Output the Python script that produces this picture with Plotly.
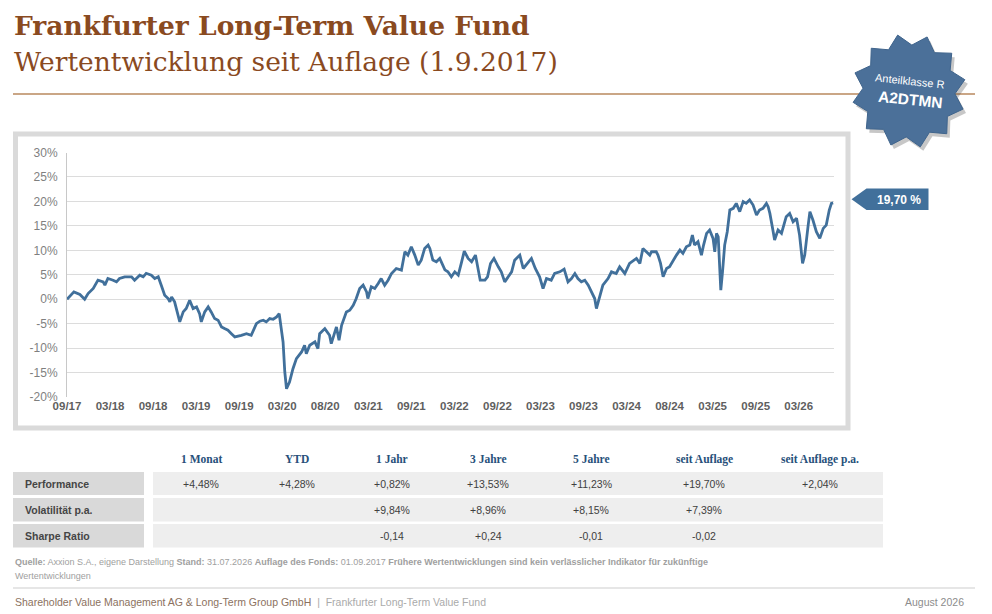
import math

import plotly.graph_objects as go

# Wertentwicklung seit Auflage; x = Halbjahres-Achsenschritte ab 09/17
halbjahr = [
    0.00, 0.16, 0.30, 0.41, 0.49, 0.61, 0.72, 0.84, 0.88, 0.95,
    1.07, 1.15, 1.22, 1.34, 1.50, 1.57, 1.69, 1.77, 1.84, 1.96,
    2.04, 2.12, 2.19, 2.27, 2.35, 2.39, 2.43, 2.50, 2.62, 2.70,
    2.77, 2.85, 2.93, 3.01, 3.08, 3.12, 3.20, 3.28, 3.35, 3.43,
    3.51, 3.59, 3.66, 3.74, 3.82, 3.90, 4.05, 4.17, 4.28, 4.32,
    4.40, 4.48, 4.56, 4.63, 4.71, 4.79, 4.87, 4.93, 4.98, 5.02,
    5.06, 5.10, 5.17, 5.25, 5.33, 5.45, 5.52, 5.56, 5.64, 5.76,
    5.83, 5.87, 5.99, 6.10, 6.14, 6.26, 6.32, 6.38, 6.49, 6.57,
    6.65, 6.72, 6.80, 6.88, 6.96, 6.99, 7.07, 7.15, 7.23, 7.30,
    7.38, 7.46, 7.54, 7.65, 7.77, 7.85, 7.92, 8.00, 8.08, 8.16,
    8.23, 8.31, 8.39, 8.43, 8.50, 8.58, 8.66, 8.74, 8.78, 8.85,
    8.93, 9.01, 9.09, 9.16, 9.23, 9.32, 9.40, 9.49, 9.55, 9.60,
    9.71, 9.77, 9.84, 9.92, 10.02, 10.09, 10.17, 10.25, 10.33, 10.40,
    10.52, 10.60, 10.67, 10.79, 10.88, 10.98, 11.06, 11.14, 11.25, 11.33,
    11.45, 11.55, 11.64, 11.72, 11.80, 11.87, 11.95, 12.03, 12.11, 12.18,
    12.26, 12.30, 12.38, 12.45, 12.57, 12.65, 12.76, 12.84, 12.96, 13.07,
    13.23, 13.31, 13.38, 13.46, 13.54, 13.58, 13.69, 13.73, 13.79, 13.85,
    13.93, 14.00, 14.08, 14.16, 14.24, 14.31, 14.39, 14.47, 14.53, 14.58,
    14.66, 14.74, 14.79, 14.86, 14.93, 15.01, 15.05, 15.09, 15.13, 15.17,
    15.19, 15.23, 15.28, 15.34, 15.40, 15.48, 15.55, 15.63, 15.71, 15.78,
    15.86, 15.94, 16.02, 16.09, 16.17, 16.25, 16.29, 16.33, 16.37, 16.40,
    16.44, 16.52, 16.60, 16.71, 16.79, 16.87, 16.95, 17.02, 17.09, 17.14,
    17.22, 17.26, 17.33, 17.41, 17.49, 17.57, 17.64, 17.71, 17.76, 17.80,
]
wertentwicklung = [
    0.00, 1.50, 0.96, 0.00, 1.16, 2.19, 3.89, 3.55, 2.87, 4.23,
    3.89, 3.55, 4.23, 4.58, 4.58, 3.89, 4.92, 4.58, 5.30, 4.92,
    4.23, 4.58, 2.87, 0.82, 0.14, -0.55, 0.48, -0.55, -4.64, -2.60,
    -1.91, -0.20, -1.91, -1.57, -2.94, -4.64, -2.60, -1.57, -2.60, -3.96,
    -4.30, -5.67, -6.01, -6.35, -7.04, -7.72, -7.38, -7.04, -7.38, -6.50,
    -5.00, -4.50, -4.30, -4.64, -3.96, -4.10, -3.62, -2.94, -6.69, -8.74,
    -14.89, -18.31, -16.94, -14.21, -12.16, -10.79, -9.43, -11.13, -9.43, -8.74,
    -10.11, -7.04, -6.01, -7.38, -9.08, -5.67, -8.40, -5.33, -2.60, -2.25,
    -1.23, 0.14, 2.19, 2.87, 1.50, 0.14, 2.53, 2.19, 3.21, 4.23,
    2.87, 3.89, 5.26, 6.28, 5.94, 9.70, 9.02, 10.72, 9.02, 6.97,
    7.99, 10.38, 11.07, 10.38, 7.99, 7.65, 8.33, 6.97, 6.00, 5.60,
    4.58, 5.60, 4.92, 7.31, 9.84, 8.33, 7.65, 9.02, 6.28, 3.89,
    3.89, 4.58, 7.31, 8.33, 6.63, 5.60, 3.55, 4.58, 5.60, 7.99,
    9.02, 6.28, 6.97, 8.33, 6.28, 4.58, 2.19, 4.23, 3.89, 5.26,
    5.60, 6.15, 3.55, 4.23, 5.26, 4.23, 3.55, 3.89, 2.87, 1.50,
    0.14, -1.91, 0.82, 2.87, 4.23, 5.60, 5.26, 6.63, 5.26, 7.31,
    8.33, 7.31, 10.38, 9.70, 9.02, 9.70, 9.70, 9.02, 7.31, 4.58,
    6.28, 6.63, 7.99, 9.02, 10.04, 9.36, 10.72, 11.07, 13.11, 11.07,
    11.75, 9.02, 11.07, 13.46, 14.14, 12.43, 9.70, 13.46, 12.77, 4.92,
    1.84, 5.60, 11.07, 13.80, 18.24, 18.58, 19.60, 17.90, 19.95, 19.60,
    20.29, 19.26, 17.21, 18.24, 18.58, 19.60, 18.92, 17.55, 15.16, 14.14,
    12.09, 14.14, 13.46, 16.87, 17.55, 15.85, 16.53, 13.11, 7.31, 9.02,
    15.16, 17.90, 16.19, 13.80, 12.43, 14.48, 15.16, 18.24, 19.60, 19.70,
]

x_labels = ['09/17', '03/18', '09/18', '03/19', '09/19', '03/20', '08/20',
            '03/21', '09/21', '03/22', '09/22', '03/23', '09/23', '03/24',
            '08/24', '03/25', '09/25', '03/26']
y_ticks = [30, 25, 20, 15, 10, 5, 0, -5, -10, -15, -20]
last_label = '19,70 %'

table_columns = ['1 Monat', 'YTD', '1 Jahr', '3 Jahre', '5 Jahre',
                 'seit Auflage', 'seit Auflage p.a.']
row_labels = ['Performance', 'Volatilität p.a.', 'Sharpe Ratio']
performance = ['+4,48%', '+4,28%', '+0,82%', '+13,53%', '+11,23%',
               '+19,70%', '+2,04%']
volatilitaet = ['', '', '+9,84%', '+8,96%', '+8,15%', '+7,39%', '']
sharpe_ratio = ['', '', '-0,14', '+0,24', '-0,01', '-0,02', '']

W, H = 992, 614
BROWN = '#8a4a1f'
BLUE = '#41709b'
SANS = 'Liberation Sans Narrow, Liberation Sans, Arial'
SERIF = 'DejaVu Serif, Liberation Serif'


def px(x):
    return x / W


def py(y):
    return 1 - y / H


def path(points):
    return 'M ' + ' L '.join(
        '%.4f,%.4f' % (px(x), py(y)) for x, y in points) + ' Z'


def note(text, x, y, size, color, family=SANS, xanchor='center', **kw):
    d = dict(text=text, x=px(x), y=py(y), xref='paper', yref='paper',
             xanchor=xanchor, yanchor='middle', showarrow=False,
             font=dict(family=family, size=size, color=color))
    d.update(kw)
    return d


fig = go.Figure()

fig.add_trace(
    go.Scatter(
        x=halbjahr,
        y=wertentwicklung,
        mode='lines',
        line=dict(color=BLUE, width=2.8),
        hoverinfo='skip',
        showlegend=False))

shapes = []
annotations = []

# Chart frame
shapes.append(dict(
    type='rect', xref='paper', yref='paper', layer='below',
    x0=px(15.5), x1=px(848), y0=py(428), y1=py(134),
    line=dict(color='#dadada', width=5), fillcolor='white'))

# Title block
annotations.append(note(
    '<b>Frankfurter Long-Term Value Fund</b>', 12, 25, 26.5, BROWN,
    family=SERIF, xanchor='left'))
annotations.append(note(
    'Wertentwicklung seit Auflage (1.9.2017)', 12, 61, 26.5, BROWN,
    family=SERIF, xanchor='left'))
shapes.append(dict(
    type='line', xref='paper', yref='paper',
    x0=px(13), x1=px(975), y0=py(94), y1=py(94),
    line=dict(color='#caa686', width=2)))

# Share class badge (star seal)
cx, cy, n_pts = 909, 91, 12
star = []
for k in range(2 * n_pts):
    r = 57 if k % 2 == 0 else 46
    a = math.pi / n_pts * k - math.pi / 2 - 0.2
    star.append((cx + r * math.cos(a), cy + r * math.sin(a)))
shadow = [(x + 3, y + 4) for x, y in star]
shapes.append(dict(
    type='path', xref='paper', yref='paper', path=path(shadow),
    fillcolor='rgba(70,70,70,0.3)', line=dict(width=0)))
shapes.append(dict(
    type='path', xref='paper', yref='paper', path=path(star),
    fillcolor='#4b7099', line=dict(color='#3f648c', width=1)))
annotations.append(note('Anteilklasse R', cx + 1, 81, 11, 'white',
                        textangle=6))
annotations.append(note('<b>A2DTMN</b>', cx + 1, 100, 15.5, 'white',
                        textangle=6))

# Last value flag
flag = [(851.5, 199.3), (866.5, 188.5), (928.5, 188.5), (928.5, 210),
        (866.5, 210)]
shapes.append(dict(
    type='path', xref='paper', yref='paper', path=path(flag),
    fillcolor=BLUE, line=dict(width=0)))
annotations.append(note('<b>%s</b>' % last_label, 899, 199.5, 12, 'white'))

# Key figure table
col_x = [201, 297, 392, 488, 591, 704, 820]
row_y = [(472, 495), (498, 521.5), (524, 547.5)]
rows = [performance, volatilitaet, sharpe_ratio]
for name, xc in zip(table_columns, col_x):
    annotations.append(note('<b>%s</b>' % name, xc, 459, 11.5, '#27507a',
                            family='Liberation Serif'))
for label, values, (y0, y1) in zip(row_labels, rows, row_y):
    shapes.append(dict(
        type='rect', xref='paper', yref='paper', layer='below',
        x0=px(13), x1=px(144), y0=py(y1), y1=py(y0),
        fillcolor='#d9d9d9', line=dict(width=0)))
    shapes.append(dict(
        type='rect', xref='paper', yref='paper', layer='below',
        x0=px(153), x1=px(883), y0=py(y1), y1=py(y0),
        fillcolor='#eeeeee', line=dict(width=0)))
    yc = (y0 + y1) / 2
    annotations.append(note('<b>%s</b>' % label, 23, yc, 10.5, '#454545',
                            xanchor='left'))
    for value, xc in zip(values, col_x):
        if value:
            annotations.append(note(value, xc, yc, 10.5, '#404040'))

# Source note and footer
annotations.append(note(
    '<b>Quelle:</b> Axxion S.A., eigene Darstellung <b>Stand:</b> '
    '31.07.2026 <b>Auflage des Fonds:</b> 01.09.2017 <b>Frühere '
    'Wertentwicklungen sind kein verlässlicher Indikator für '
    'zukünftige</b>', 13, 562, 9, '#a0a0a0', xanchor='left'))
annotations.append(note('Wertentwicklungen', 13, 575.5, 9, '#a0a0a0',
                        xanchor='left'))
shapes.append(dict(
    type='line', xref='paper', yref='paper',
    x0=px(13), x1=px(975), y0=py(588), y1=py(588),
    line=dict(color='#e6e6e6', width=2)))
annotations.append(note(
    '<span style="color:#8b7160">Shareholder Value Management AG &amp; '
    'Long-Term Group GmbH</span>  |  Frankfurter Long-Term Value Fund',
    13, 602, 10.5, '#aaaaaa', xanchor='left'))
annotations.append(note('August 2026', 966, 602, 10.5, '#8c8c8c',
                        xanchor='right'))

fig.update_layout(
    width=W, height=H,
    margin=dict(l=0, r=0, t=0, b=0),
    paper_bgcolor='white',
    plot_bgcolor='#f2f2f2',
    shapes=shapes,
    annotations=annotations,
    xaxis=dict(
        domain=[px(67), px(834)],
        range=[0, 17.82],
        tickvals=list(range(len(x_labels))),
        ticktext=['<b>%s</b>' % t for t in x_labels],
        showgrid=True, gridcolor='white', gridwidth=3.5,
        zeroline=False, showline=False, ticks='', automargin=False,
        tickfont=dict(family=SANS, size=11.5, color='#5f5f5f')),
    yaxis=dict(
        domain=[py(397), py(152.5)],
        range=[-20, 30],
        tickvals=y_ticks,
        ticktext=['%d%%' % v for v in y_ticks],
        showgrid=True, gridcolor='#dcdcdc', gridwidth=1,
        zeroline=False, showline=True, linecolor='#c8c8c8', linewidth=1,
        ticks='', ticklabelstandoff=6, automargin=False,
        tickfont=dict(family=SANS, size=12, color='#7f7f7f')),
)

fig.write_html('out.html', config={'displayModeBar': False},
               post_script="document.body.style.margin='0';")
